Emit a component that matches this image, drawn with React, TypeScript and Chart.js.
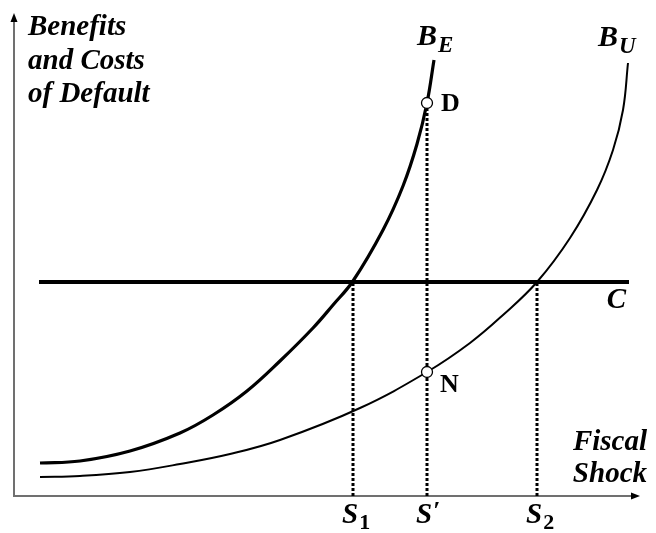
import React, { useEffect, useRef } from "react";
import { Chart, registerables } from "chart.js";

Chart.register(...registerables);

// Diagram units: x = fiscal shock, y = benefits / costs of default
const beX = [26, 66, 116, 166, 199, 233, 266, 299, 319, 339, 369, 389, 403, 413, 420];
const beY = [33, 35, 45, 63, 81, 105, 135, 168, 191, 215, 266, 310, 352, 393, 436];
const buX = [26, 66, 116, 166, 216, 266, 346, 413, 456, 489, 523, 556, 583, 599, 609, 614];
const buY = [19, 20, 24, 32, 42, 56, 88, 124, 153, 181, 214, 258, 306, 346, 386, 433];
const costLevel = 214;
const costX = [25, 615];
const sValues = [339, 413, 523];
const sTops = [214, 393, 214];
const sLabels = ["1", "′", "2"];
const pointD = { x: 413, y: 393 };
const pointN = { x: 413, y: 124 };
const xMax = 626;
const yMax = 483;

export default function App() {
  const ref = useRef<HTMLCanvasElement | null>(null);
  useEffect(() => {
    document.body.style.margin = "0";
    const canvas = ref.current!;
    const serif = '"Liberation Serif", "Times New Roman", serif';

    const overlay = {
      id: "overlay",
      beforeDatasetsDraw(chart: any) {
        const { ctx, chartArea } = chart;
        const { left, right, top, bottom } = chartArea;
        ctx.save();
        ctx.strokeStyle = "#707070";
        ctx.lineWidth = 2;
        ctx.beginPath();
        ctx.moveTo(left, top + 6);
        ctx.lineTo(left, bottom);
        ctx.lineTo(right - 6, bottom);
        ctx.stroke();
        ctx.fillStyle = "#000";
        ctx.beginPath();
        ctx.moveTo(left, top);
        ctx.lineTo(left - 3.5, top + 9);
        ctx.lineTo(left + 3.5, top + 9);
        ctx.closePath();
        ctx.fill();
        ctx.beginPath();
        ctx.moveTo(right, bottom);
        ctx.lineTo(right - 9, bottom - 3.5);
        ctx.lineTo(right - 9, bottom + 3.5);
        ctx.closePath();
        ctx.fill();
        ctx.restore();
      },
      afterDraw(chart: any) {
        const { ctx, chartArea } = chart;
        const xs = chart.scales.x;
        const ys = chart.scales.y;
        const { left, right, top, bottom } = chartArea;
        ctx.save();
        ctx.fillStyle = "#000";
        ctx.textBaseline = "middle";
        // Y title
        ctx.font = `bold italic 29px ${serif}`;
        ctx.textAlign = "left";
        ["Benefits", "and Costs", "of Default"].forEach((t, i) => {
          ctx.fillText(t, left + 14, top + 15 + i * 33.5);
        });
        // X title
        ctx.textAlign = "right";
        ctx.fillText("Fiscal", right + 7, bottom - 53);
        ctx.fillText("Shock", right + 7, bottom - 21);
        // Curve labels
        const drawSub = (main: string, sub: string, x: number, y: number) => {
          ctx.textAlign = "left";
          ctx.font = `bold italic 30px ${serif}`;
          ctx.fillText(main, x, y);
          const w = ctx.measureText(main).width;
          ctx.font = `bold italic 23px ${serif}`;
          ctx.fillText(sub, x + w + 1, y + 9);
        };
        const beTopX = xs.getPixelForValue(beX[beX.length - 1]);
        const beTopY = ys.getPixelForValue(beY[beY.length - 1]);
        drawSub("B", "E", beTopX - 17, beTopY - 23);
        const buTopX = xs.getPixelForValue(buX[buX.length - 1]);
        const buTopY = ys.getPixelForValue(buY[buY.length - 1]);
        drawSub("B", "U", buTopX - 30, buTopY - 25);
        // C label
        ctx.font = `bold italic 29px ${serif}`;
        ctx.textAlign = "right";
        ctx.fillText("C", xs.getPixelForValue(costX[1]) - 3, ys.getPixelForValue(costLevel) + 19);
        // D and N
        ctx.font = `bold 26px ${serif}`;
        ctx.textAlign = "left";
        ctx.fillText("D", xs.getPixelForValue(pointD.x) + 14, ys.getPixelForValue(pointD.y) + 1);
        ctx.fillText("N", xs.getPixelForValue(pointN.x) + 13, ys.getPixelForValue(pointN.y) + 13);
        // S labels
        sValues.forEach((v, i) => {
          const px = xs.getPixelForValue(v);
          ctx.font = `bold italic 29px ${serif}`;
          ctx.textAlign = "left";
          const sx = px - 11;
          ctx.fillText("S", sx, bottom + 20);
          const w = ctx.measureText("S").width;
          if (sLabels[i] === "′") {
            ctx.font = `bold 26px ${serif}`;
            ctx.fillText(sLabels[i], sx + w + 1, bottom + 16);
          } else {
            ctx.font = `bold 22px ${serif}`;
            ctx.fillText(sLabels[i], sx + w + 1, bottom + 27);
          }
        });
        ctx.restore();
      },
    };

    const chart = new Chart(canvas, {
      type: "line",
      data: {
        datasets: [
          {
            label: "B_E",
            data: beX.map((x, i) => ({ x, y: beY[i] })),
            borderColor: "#000",
            borderWidth: 3.2,
            pointRadius: 0,
            tension: 0.4,
            order: 2,
          } as any,
          {
            label: "B_U",
            data: buX.map((x, i) => ({ x, y: buY[i] })),
            borderColor: "#000",
            borderWidth: 2,
            pointRadius: 0,
            tension: 0.4,
            order: 2,
          },
          {
            label: "C",
            data: costX.map((x) => ({ x, y: costLevel })),
            borderColor: "#000",
            borderWidth: 4,
            pointRadius: 0,
            order: 2,
          },
          ...sValues.map((v, i) => ({
            label: "S" + i,
            data: [
              { x: v, y: 0 },
              { x: v, y: sTops[i] },
            ],
            borderColor: "#000",
            borderWidth: 3,
            borderDash: [3, 2],
            pointRadius: 0,
            order: 3,
          })),
          {
            label: "points",
            data: [pointD, pointN],
            showLine: false,
            pointRadius: 5.5,
            pointBackgroundColor: "#fff",
            pointBorderColor: "#000",
            pointBorderWidth: 1.3,
            order: 0,
          },
        ],
      },
      options: {
        responsive: false,
        animation: false,
        parsing: false as any,
        layout: { padding: { left: 14, top: 13, right: 16, bottom: 37 } },
        plugins: { legend: { display: false }, tooltip: { enabled: false } },
        scales: {
          x: { type: "linear", min: 0, max: xMax, display: false },
          y: { type: "linear", min: 0, max: yMax, display: false },
        },
      },
      plugins: [overlay],
    });
    return () => chart.destroy();
  }, []);
  return (
    <canvas
      ref={ref}
      width={656}
      height={533}
      style={{ display: "block", width: 656, height: 533 }}
    />
  );
}
